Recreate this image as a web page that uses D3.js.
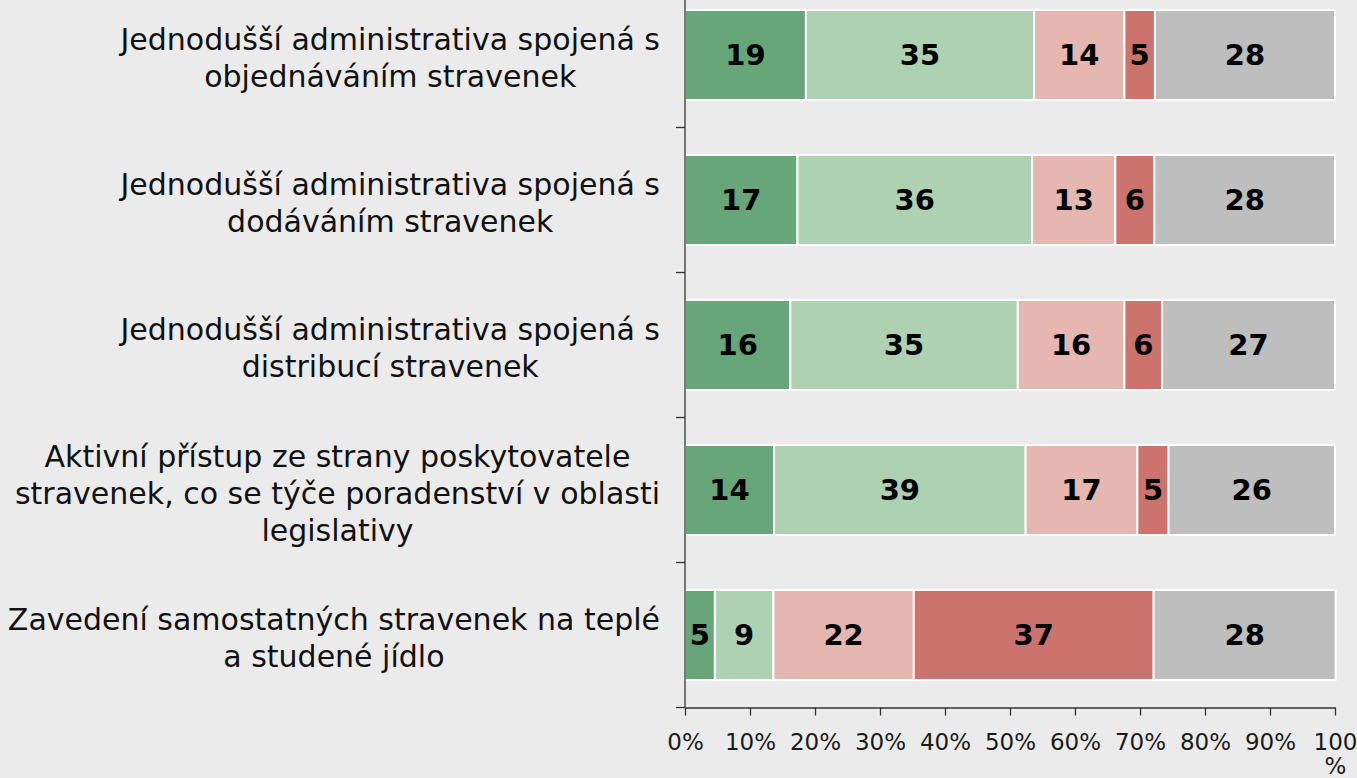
<!DOCTYPE html>
<html>
<head>
<meta charset="utf-8">
<script src="https://cdn.jsdelivr.net/npm/d3@7"></script>
<style>
    body { margin: 0; background: #ebebeb; }
    svg { display: block; font-family: "DejaVu Sans", Verdana, sans-serif; }
</style>
</head>
<body>
<div id="chart"></div>
<script>
// categories, top to bottom
const categories = [
    "Jednodušší administrativa spojená s objednáváním stravenek",
    "Jednodušší administrativa spojená s dodáváním stravenek",
    "Jednodušší administrativa spojená s distribucí stravenek",
    "Aktivní přístup ze strany poskytovatele stravenek, co se týče poradenství v oblasti legislativy",
    "Zavedení samostatných stravenek na teplé a studené jídlo"
];

// series values in %
const seriesKeys = ["s1", "s2", "s3", "s4", "s5"];
const seriesColors = ["#67a678", "#aed1b1", "#e6b6b1", "#cc736e", "#bebebe"];
const s1 = [18.6, 17.3, 16.2, 13.7, 4.6];
const s2 = [35.1, 36.1, 35.0, 38.7, 9.0];
const s3 = [13.9, 12.8, 16.4, 17.2, 21.6];
const s4 = [4.7, 6.0, 5.8, 4.8, 36.9];
const s5 = [27.7, 27.8, 26.6, 25.6, 28.0];

const tickValues = [0, 10, 20, 30, 40, 50, 60, 70, 80, 90, 100];
const tickLabels = ["0%", "10%", "20%", "30%", "40%", "50%", "60%", "70%", "80%", "90%", "100%"];

const W = 1357, H = 778;
const plot = { left: 685, right: 1335, top: -17.5, bottom: 707.5 };
const FONT = '"DejaVu Sans", Verdana, sans-serif';

const rows = categories.map((c, i) => ({
    cat: c, s1: s1[i], s2: s2[i], s3: s3[i], s4: s4[i], s5: s5[i]
}));

const svg = d3.select("#chart").append("svg")
    .attr("width", W)
    .attr("height", H);

svg.append("rect").attr("width", W).attr("height", H).attr("fill", "#ebebeb");

const x = d3.scaleLinear().domain([0, 100]).range([plot.left, plot.right]);
const y = d3.scaleBand().domain(categories)
    .range([plot.top, plot.bottom])
    .paddingInner(0.3793)
    .paddingOuter(0.3793 / 2);
const color = d3.scaleOrdinal().domain(seriesKeys).range(seriesColors);

const series = d3.stack().keys(seriesKeys)(rows);

// bars
const groups = svg.selectAll(".series")
    .data(series)
    .join("g")
    .attr("class", "series")
    .attr("fill", d => color(d.key));

groups.selectAll("rect")
    .data(d => d)
    .join("rect")
    .attr("x", d => x(d[0]))
    .attr("y", d => y(d.data.cat))
    .attr("width", d => x(d[1]) - x(d[0]))
    .attr("height", y.bandwidth())
    .attr("stroke", "#ffffff")
    .attr("stroke-width", 2);

// value labels
groups.selectAll("text")
    .data(d => d)
    .join("text")
    .attr("x", d => (x(d[0]) + x(d[1])) / 2)
    .attr("y", d => y(d.data.cat) + y.bandwidth() / 2)
    .attr("dy", "0.36em")
    .attr("text-anchor", "middle")
    .style("font-size", "29px")
    .style("font-weight", "bold")
    .attr("fill", "#000")
    .text(d => Math.round(d[1] - d[0]));

// x axis
const xAxis = svg.append("g")
    .attr("transform", `translate(0,${plot.bottom})`)
    .call(d3.axisBottom(x)
        .tickValues(tickValues)
        .tickFormat((d, i) => tickLabels[i])
        .tickSize(8)
        .tickSizeOuter(0))
    .attr("font-family", FONT)
    .attr("font-size", 23);
xAxis.select(".domain").attr("stroke", "#333").attr("stroke-width", 1.3);
xAxis.selectAll(".tick line").attr("stroke", "#333").attr("stroke-width", 1.3);
xAxis.selectAll(".tick text")
    .attr("y", 26)
    .attr("dy", "0.71em")
    .attr("fill", "#1a1a1a");

// wrap tick labels wider than one tick step (like "100%")
const step = x(tickValues[1]) - x(tickValues[0]);
xAxis.selectAll(".tick text").each(function (d, i) {
    const t = d3.select(this);
    if (this.getComputedTextLength() > step - 2) {
        const label = tickLabels[i];
        const head = label.slice(0, -1), tail = label.slice(-1);
        t.text(null).attr("dy", null);
        t.append("tspan").attr("x", 0).attr("dy", "0.71em").text(head);
        t.append("tspan").attr("x", 0).attr("dy", "1.05em").text(tail);
    }
});

// y axis: line plus ticks at band boundaries
const yAxis = svg.append("g");
yAxis.append("line")
    .attr("x1", plot.left).attr("x2", plot.left)
    .attr("y1", 0).attr("y2", plot.bottom)
    .attr("stroke", "#333").attr("stroke-width", 1.3);
const boundaries = categories.map(c => y(c) + y.bandwidth() + y.step() * y.paddingInner() / 2);
yAxis.selectAll(".ytick")
    .data(boundaries)
    .join("line")
    .attr("class", "ytick")
    .attr("x1", plot.left - 9).attr("x2", plot.left)
    .attr("y1", d => d).attr("y2", d => d)
    .attr("stroke", "#333").attr("stroke-width", 1.3);

// category labels: wrapped, block right-aligned, lines centred
const labelRight = 660, maxLine = 662, lineH = 37;
categories.forEach(cat => {
    const t = svg.append("text")
        .style("font-size", "30px")
        .attr("fill", "#111");
    const words = cat.split(" ");
    const lines = [];
    let cur = [];
    const probe = t.append("tspan");
    words.forEach(w => {
        cur.push(w);
        probe.text(cur.join(" "));
        if (probe.node().getComputedTextLength() > maxLine && cur.length > 1) {
            cur.pop();
            lines.push(cur.join(" "));
            cur = [w];
        }
    });
    lines.push(cur.join(" "));
    probe.remove();

    const widths = lines.map(l => {
        const tmp = t.append("tspan").text(l);
        const wdt = tmp.node().getComputedTextLength();
        tmp.remove();
        return wdt;
    });
    const cx = labelRight - d3.max(widths) / 2;
    const cy = y(cat) + y.bandwidth() / 2 + 3;
    const y0 = cy - (lines.length - 1) * lineH / 2;
    t.attr("text-anchor", "middle");
    lines.forEach((l, i) => {
        t.append("tspan")
            .attr("x", cx)
            .attr("y", y0 + i * lineH)
            .attr("dy", "0.36em")
            .text(l);
    });
});
</script>
</body>
</html>
